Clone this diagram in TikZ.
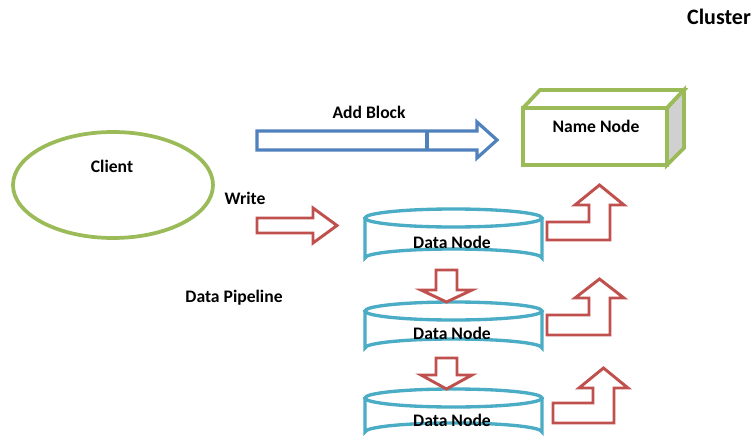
\documentclass[tikz,border=0pt]{standalone}
\usepackage{fontspec}
\setmainfont{Carlito}
\begin{document}
\begin{tikzpicture}[x=0.75pt,y=-0.75pt,
  lbl/.style={font=\bfseries\fontsize{13.2}{15}\selectfont, inner sep=0pt},
  greenline/.style={draw={rgb,255:red,155;green,187;blue,89}, line width=2.8pt, line join=miter},
  cylline/.style={draw={rgb,255:red,75;green,172;blue,198}, line width=2.5pt},
  redarrow/.style={draw={rgb,255:red,192;green,80;blue,77}, line width=2.2pt, fill=white, line join=miter},
  bluearrow/.style={draw={rgb,255:red,79;green,129;blue,189}, line width=2.4pt, fill=white, line join=miter}]
  \useasboundingbox (0,0) rectangle (754,443);
  \fill[white] (0,0) rectangle (754,443);

  % Client
  \draw[greenline] (113,185) ellipse [x radius=100, y radius=53];
  \node[lbl] (client) at (112,166) {Client};

  % Name node box
  \draw[greenline] (523,108) -- (540,90) -- (684,90) -- (667,108);
  \draw[greenline, fill={rgb,255:red,208;green,208;blue,208}] (667,108) -- (684,90) -- (684,148) -- (667,165) -- cycle;
  \draw[greenline] (523,108) rectangle (667,165);
  \node[lbl] (namenode) at (596,126) {Name Node};

  % Add Block arrow
  \draw[bluearrow] (257,131) -- (477,131) -- (477,122) -- (497,140) -- (477,158) -- (477,150) -- (257,150) -- cycle;
  \draw[bluearrow] (427,131) -- (427,150);
  \node[lbl] (addblock) at (369,112) {Add Block};

  % Write arrow
  \draw[redarrow] (257,218) -- (313,218) -- (313,208) -- (337,225.5) -- (313,243) -- (313,233) -- (257,233) -- cycle;
  \node[lbl] (write) at (245,198) {Write};
  \node[lbl] (pipeline) at (234,298) {Data Pipeline};

  % Data node cylinders
  \foreach \t/\b in {218/258, 311/348, 398/432}{
    \draw[cylline, fill=white] (365,\t) -- (365,\b) arc[start angle=180, end angle=360, x radius=88.5, y radius=9] -- (542,\t);
    \draw[cylline] (453.5,\t) ellipse [x radius=88.5, y radius=9];
  }
  \node[lbl] (dn1) at (452,242) {Data Node};
  \node[lbl] (dn2) at (452,333) {Data Node};
  \node[lbl] (dn3) at (452,420) {Data Node};

  % Pipeline arrows between data nodes
  \draw[redarrow] (436,270) -- (457,270) -- (457,290) -- (472,290) -- (446.5,302) -- (421,290) -- (436,290) -- cycle;
  \draw[redarrow] (436,358) -- (457,358) -- (457,375) -- (472,375) -- (446.5,389) -- (421,375) -- (436,375) -- cycle;

  % Report arrows to the name node
  \draw[redarrow] (547,222) -- (589,222) -- (589,205) -- (575,205) -- (599.5,185) -- (624,205) -- (610,205) -- (610,240) -- (547,240) -- cycle;
  \draw[redarrow] (547,315) -- (589,315) -- (589,298) -- (575,298) -- (599.5,279) -- (624,298) -- (610,298) -- (610,335) -- (547,335) -- cycle;
  \draw[redarrow] (553,403) -- (593,403) -- (593,388) -- (579,388) -- (603.5,368) -- (628,388) -- (614,388) -- (614,423) -- (553,423) -- cycle;

  \node[font=\bfseries\fontsize{16.5}{19}\selectfont, inner sep=0pt] (cluster) at (719,17) {Cluster};
\end{tikzpicture}
\end{document}
